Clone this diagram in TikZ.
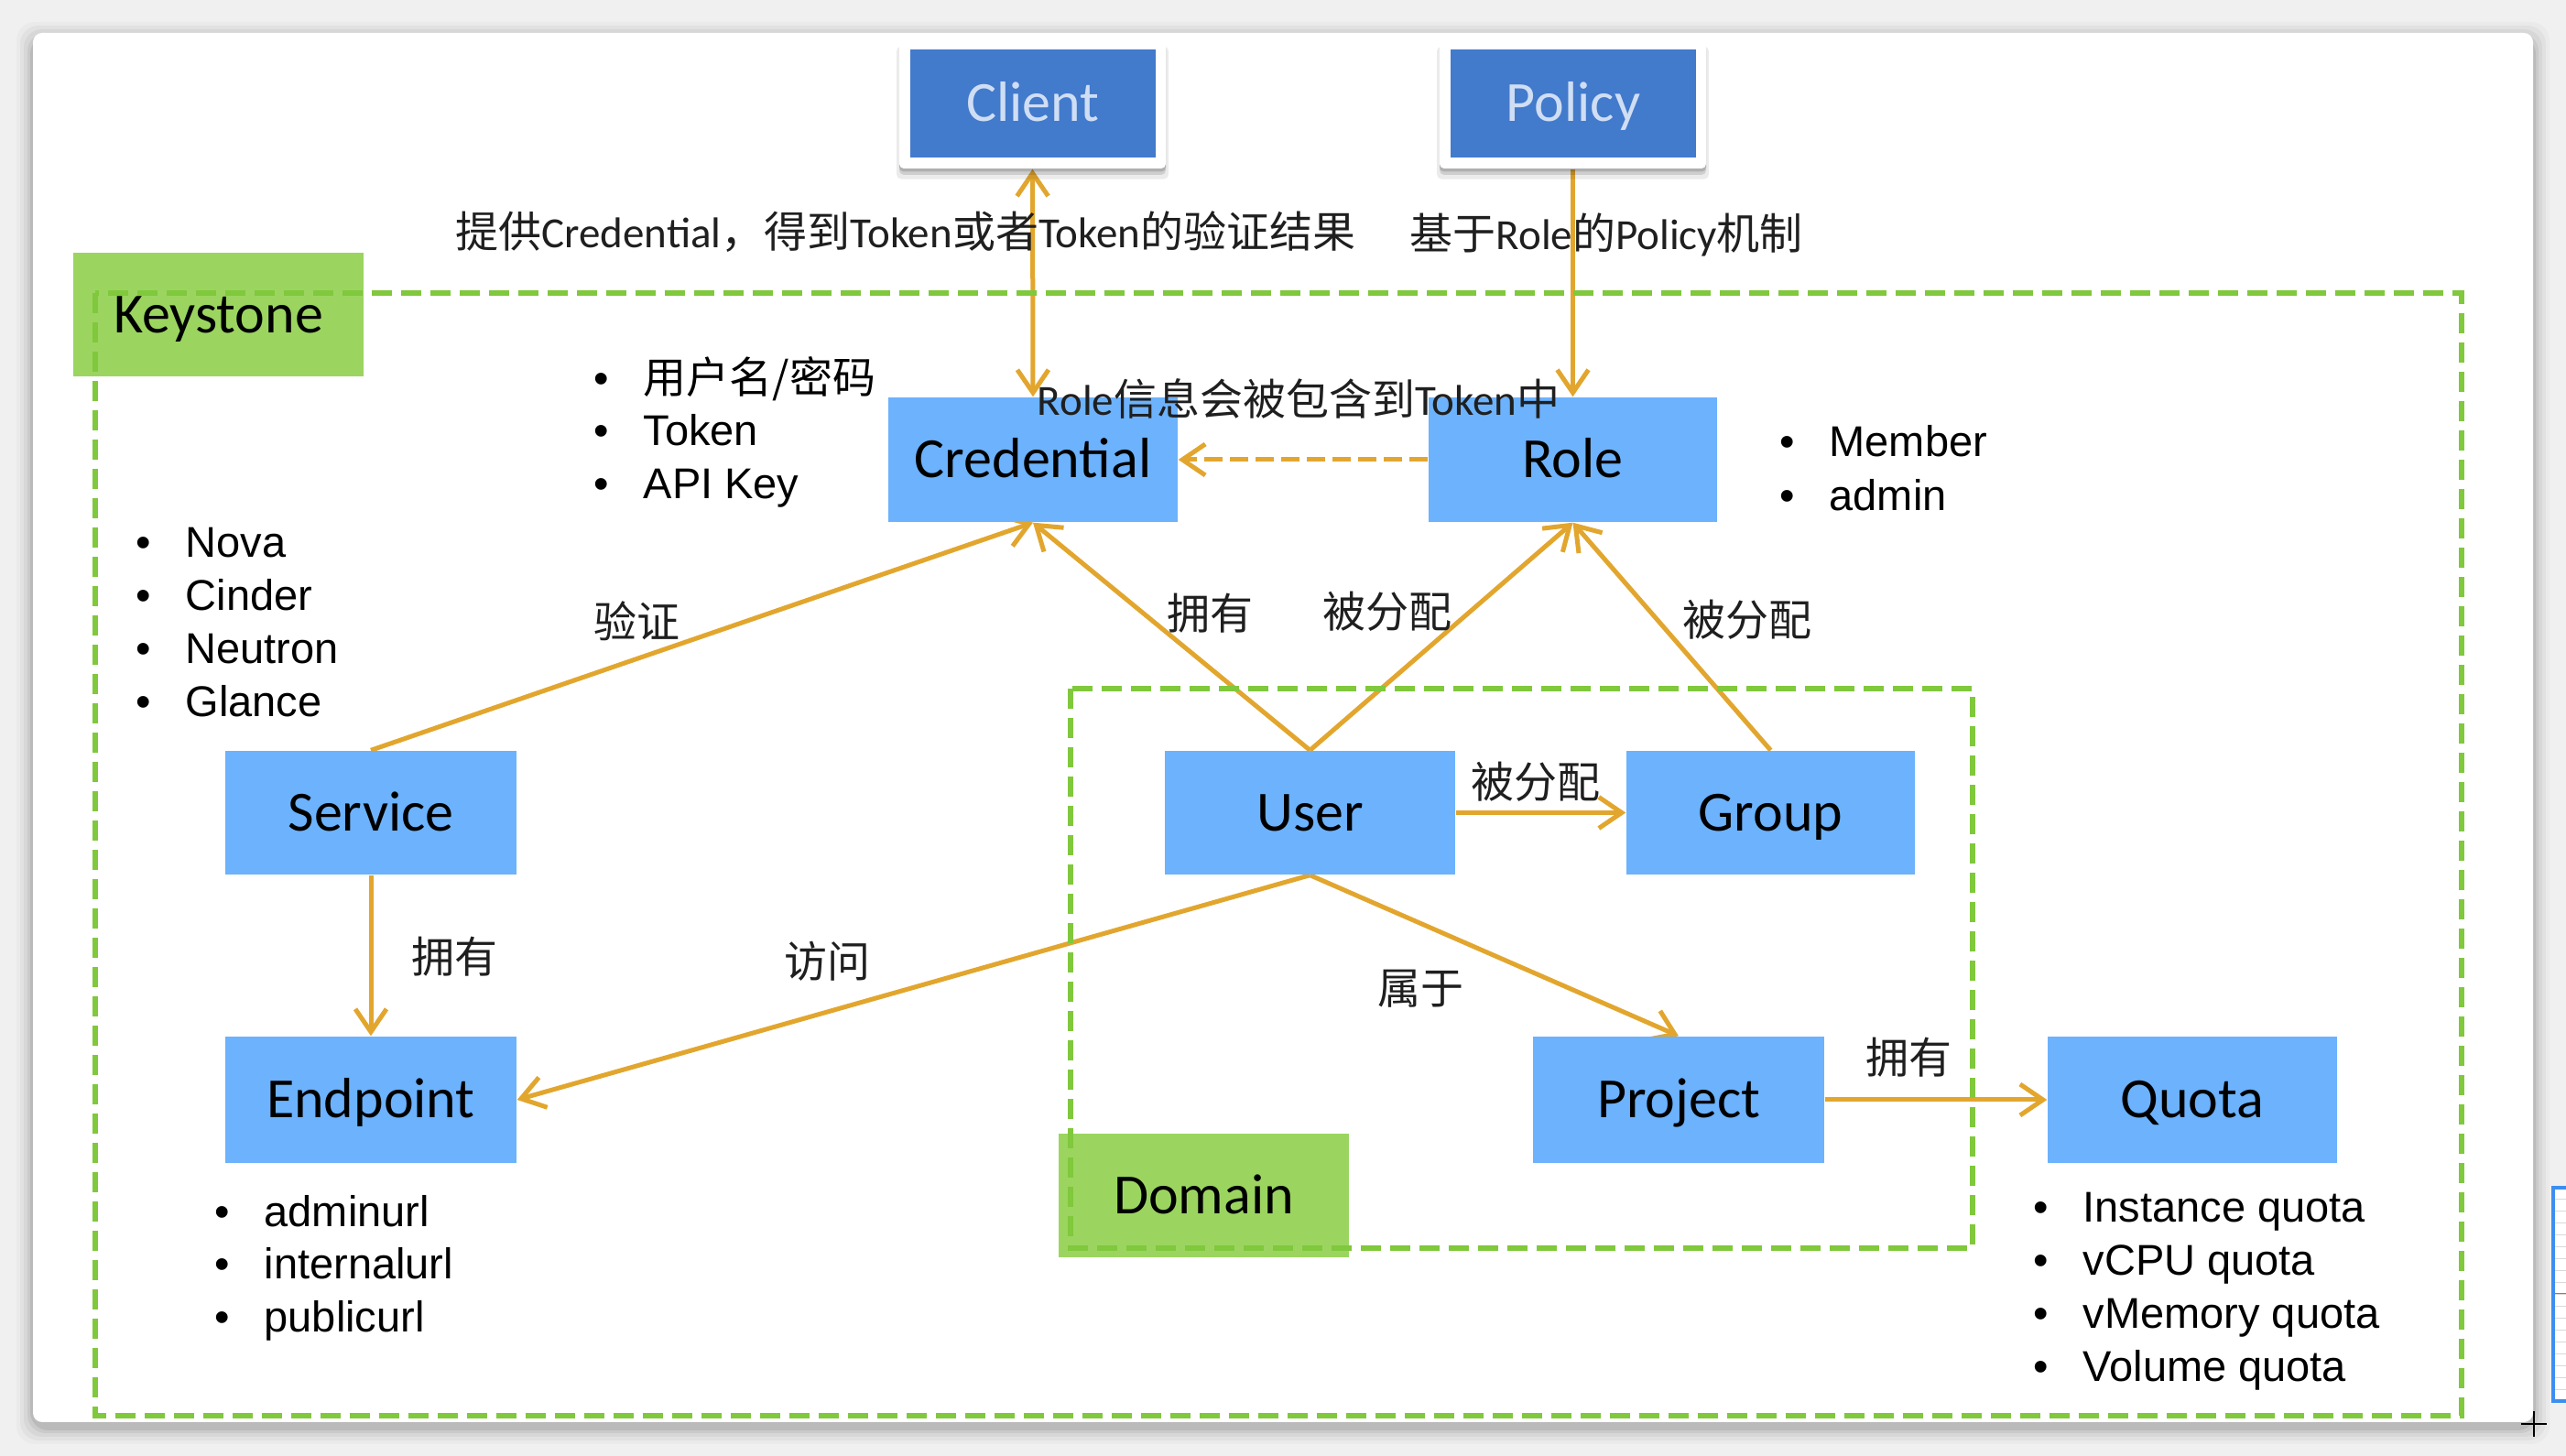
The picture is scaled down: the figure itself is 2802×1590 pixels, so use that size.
\documentclass[tikz,border=0pt]{standalone}
\usepackage{fontspec}
\setmainfont{Carlito}
\newfontfamily\cjk{Noto Sans CJK SC}
\newfontfamily\arialf{Liberation Sans}
\usetikzlibrary{arrows.meta,shadows}
\definecolor{boxblue}{RGB}{108,178,252}
\definecolor{darkblue}{RGB}{66,122,204}
\definecolor{gold}{RGB}{226,166,46}
\definecolor{lgreen}{RGB}{155,213,96}
\definecolor{dgreen}{RGB}{128,200,60}
\definecolor{clienttxt}{RGB}{208,222,244}
\definecolor{uiblue}{RGB}{61,142,240}
\pgfdeclarelayer{back}
\pgfdeclarelayer{mid}
\pgfsetlayers{back,mid,main}
\newcommand{\boxfont}{\fontsize{17.64pt}{20pt}\selectfont}
\newcommand{\lblfont}{\fontsize{13.37pt}{16pt}\selectfont}
\newcommand{\bul}{\llap{•\hspace{3.8mm}}}
\begin{document}
\begin{tikzpicture}[x=0.1mm,y=-0.1mm,
  >={Straight Barb[length=2.5mm,width=3.4mm]},
  box/.style={fill=boxblue, inner sep=0pt, font=\boxfont, text height=4mm, text depth=0mm},
  topbox/.style={fill=darkblue, text=clienttxt, minimum width=26.8mm, minimum height=11.8mm, inner sep=0pt, font=\boxfont, text height=4mm, text depth=0mm},
  framebox/.style={fill=white, rounded corners=0.5mm, minimum width=29.1mm, minimum height=14.2mm, inner sep=0pt,
     general shadow={shadow xshift=0mm, shadow yshift=-1.0mm, opacity=0.08, fill=black, shadow scale=1.02},
     general shadow={shadow xshift=0mm, shadow yshift=-0.7mm, opacity=0.12, fill=black},
     general shadow={shadow xshift=0mm, shadow yshift=-0.35mm, opacity=0.15, fill=black}},
  tagbox/.style={fill=lgreen, minimum width=31.7mm, minimum height=13.5mm, inner sep=0pt, font=\boxfont, text height=4mm, text depth=0mm},
  lbl/.style={inner sep=0pt, text=black!88, font=\lblfont, text height=4.1mm, text depth=0.56mm},
  item/.style={inner sep=0pt, anchor=west, text=black, font=\arialf\lblfont, text height=3.37mm, text depth=0mm},
  link/.style={draw=gold, line width=0.5mm, ->},
  zone/.style={draw=dgreen, line width=0.6mm, dash pattern=on 2.2mm off 1mm},
]
\useasboundingbox (0,0) rectangle (2802,1590);

% ---------- background / slide ----------
\begin{pgfonlayer}{back}
\fill[black!6] (0,0) rectangle (2802,1590);
\foreach \s/\o in {18/0.025,14/0.035,10/0.045,6/0.06,3/0.08}
  \fill[black,opacity=\o,rounded corners=2mm] (36-\s,36-\s+6) rectangle (2766+\s,1553+\s+6);
\fill[white,rounded corners=1mm] (36,36) rectangle (2766,1553);
% ui element at right edge
\fill[white] (2788,1297) rectangle (2820,1530);
\foreach \yy in {1310,1323,...,1525} \draw[black!15,line width=0.1mm] (2788,\yy) -- (2820,\yy);
\draw[uiblue,line width=0.1mm] (2788,1413) -- (2820,1413);
\draw[uiblue,line width=0.35mm] (2788,1297) rectangle (2820,1530);
% green tags
\node[tagbox] (keystone) at (238.5,343.5) {Keystone};
\node[tagbox] (domain) at (1314.5,1305.5) {Domain};
\end{pgfonlayer}

% ---------- top boxes ----------
\node[framebox] (clientf) at (1127.5,113) {};
\node[framebox] (policyf) at (1717.5,113) {};
\node[topbox] (client) at (1128,113) {Client};
\node[topbox] (policy) at (1718,113) {Policy};

% ---------- blue boxes ----------
\node[box, minimum width=31.6mm, minimum height=13.6mm] (cred) at (1128,502) {Credential};
\node[box, minimum width=31.5mm, minimum height=13.6mm] (role) at (1717.5,502) {Role};
\node[box, minimum width=31.8mm, minimum height=13.5mm] (service) at (405,887.5) {Service};
\node[box, minimum width=31.8mm, minimum height=13.8mm] (endpoint) at (405,1201) {Endpoint};
\node[box, minimum width=31.7mm, minimum height=13.5mm] (user) at (1430.5,887.5) {User};
\node[box, minimum width=31.5mm, minimum height=13.5mm] (group) at (1933.5,887.5) {Group};
\node[box, minimum width=31.8mm, minimum height=13.8mm] (project) at (1833,1201) {Project};
\node[box, minimum width=31.6mm, minimum height=13.8mm] (quota) at (2394,1201) {Quota};

% ---------- connectors and zones ----------
\begin{pgfonlayer}{mid}
\draw[link,<->] (clientf.south) -- (cred.north);
\draw[link] (policyf.south) -- (role.north);
\draw[link, dash pattern=on 2mm off 0.8mm] (role.west) -- (cred.east);
\draw[link] (service.north) -- (cred.south);
\draw[link] (user.north) -- (cred.south);
\draw[link] (user.north) -- (role.south);
\draw[link] (group.north) -- (role.south);
\draw[link] (user.east) -- (group.west);
\draw[link] (service.south) -- (endpoint.north);
\draw[link] (user.south) -- (endpoint.east);
\draw[link] (user.south) -- (project.north);
\draw[link] (project.east) -- (quota.west);
\draw[zone] (104,320) rectangle (2688,1546);
\draw[zone] (1169,752) rectangle (2154,1363);
\end{pgfonlayer}

% ---------- labels ----------
\node[lbl, anchor=west] (lclient) at (497,253) {{\cjk 提供}Credential{\cjk ，得到}Token{\cjk 或者}Token{\cjk 的验证结果}};
\node[lbl, anchor=west] (lpolicy) at (1539,255) {{\cjk 基于}Role{\cjk 的}Policy{\cjk 机制}};
\node[lbl, anchor=west] (ltoken) at (1132,436) {Role{\cjk 信息会被包含到}Token{\cjk 中}};
\node[lbl] (lverify) at (695,679) {\cjk 验证};
\node[lbl] (lown1) at (1321,670) {\cjk 拥有};
\node[lbl] (lassign1) at (1515,668) {\cjk 被分配};
\node[lbl] (lassign2) at (1908,677) {\cjk 被分配};
\node[lbl] (lassign3) at (1677,854) {\cjk 被分配};
\node[lbl] (lown2) at (496,1045) {\cjk 拥有};
\node[lbl] (lvisit) at (903,1050) {\cjk 访问};
\node[lbl] (lbelong) at (1551,1079) {\cjk 属于};
\node[lbl] (lown3) at (2084,1155) {\cjk 拥有};

% ---------- bullet lists ----------
\node[item] (c1) at (702,413) {\bul{\cjk 用户名/密码}};
\node[item] (c2) at (702,470) {\bul Token};
\node[item] (c3) at (702,528) {\bul API Key};

\node[item] (s1) at (202,592) {\bul Nova};
\node[item] (s2) at (202,650) {\bul Cinder};
\node[item] (s3) at (202,708) {\bul Neutron};
\node[item] (s4) at (202,766) {\bul Glance};

\node[item] (r1) at (1997,482) {\bul Member};
\node[item] (r2) at (1997,541) {\bul admin};

\node[item] (e1) at (288,1323) {\bul adminurl};
\node[item] (e2) at (288,1380) {\bul internalurl};
\node[item] (e3) at (288,1438) {\bul publicurl};

\node[item] (q1) at (2274,1318) {\bul Instance quota};
\node[item] (q2) at (2274,1376) {\bul vCPU quota};
\node[item] (q3) at (2274,1434) {\bul vMemory quota};
\node[item] (q4) at (2274,1492) {\bul Volume quota};

% cursor
\draw[black,line width=0.2mm] (2753,1555) -- (2781,1555) (2767,1541) -- (2767,1569);
\end{tikzpicture}
\end{document}
